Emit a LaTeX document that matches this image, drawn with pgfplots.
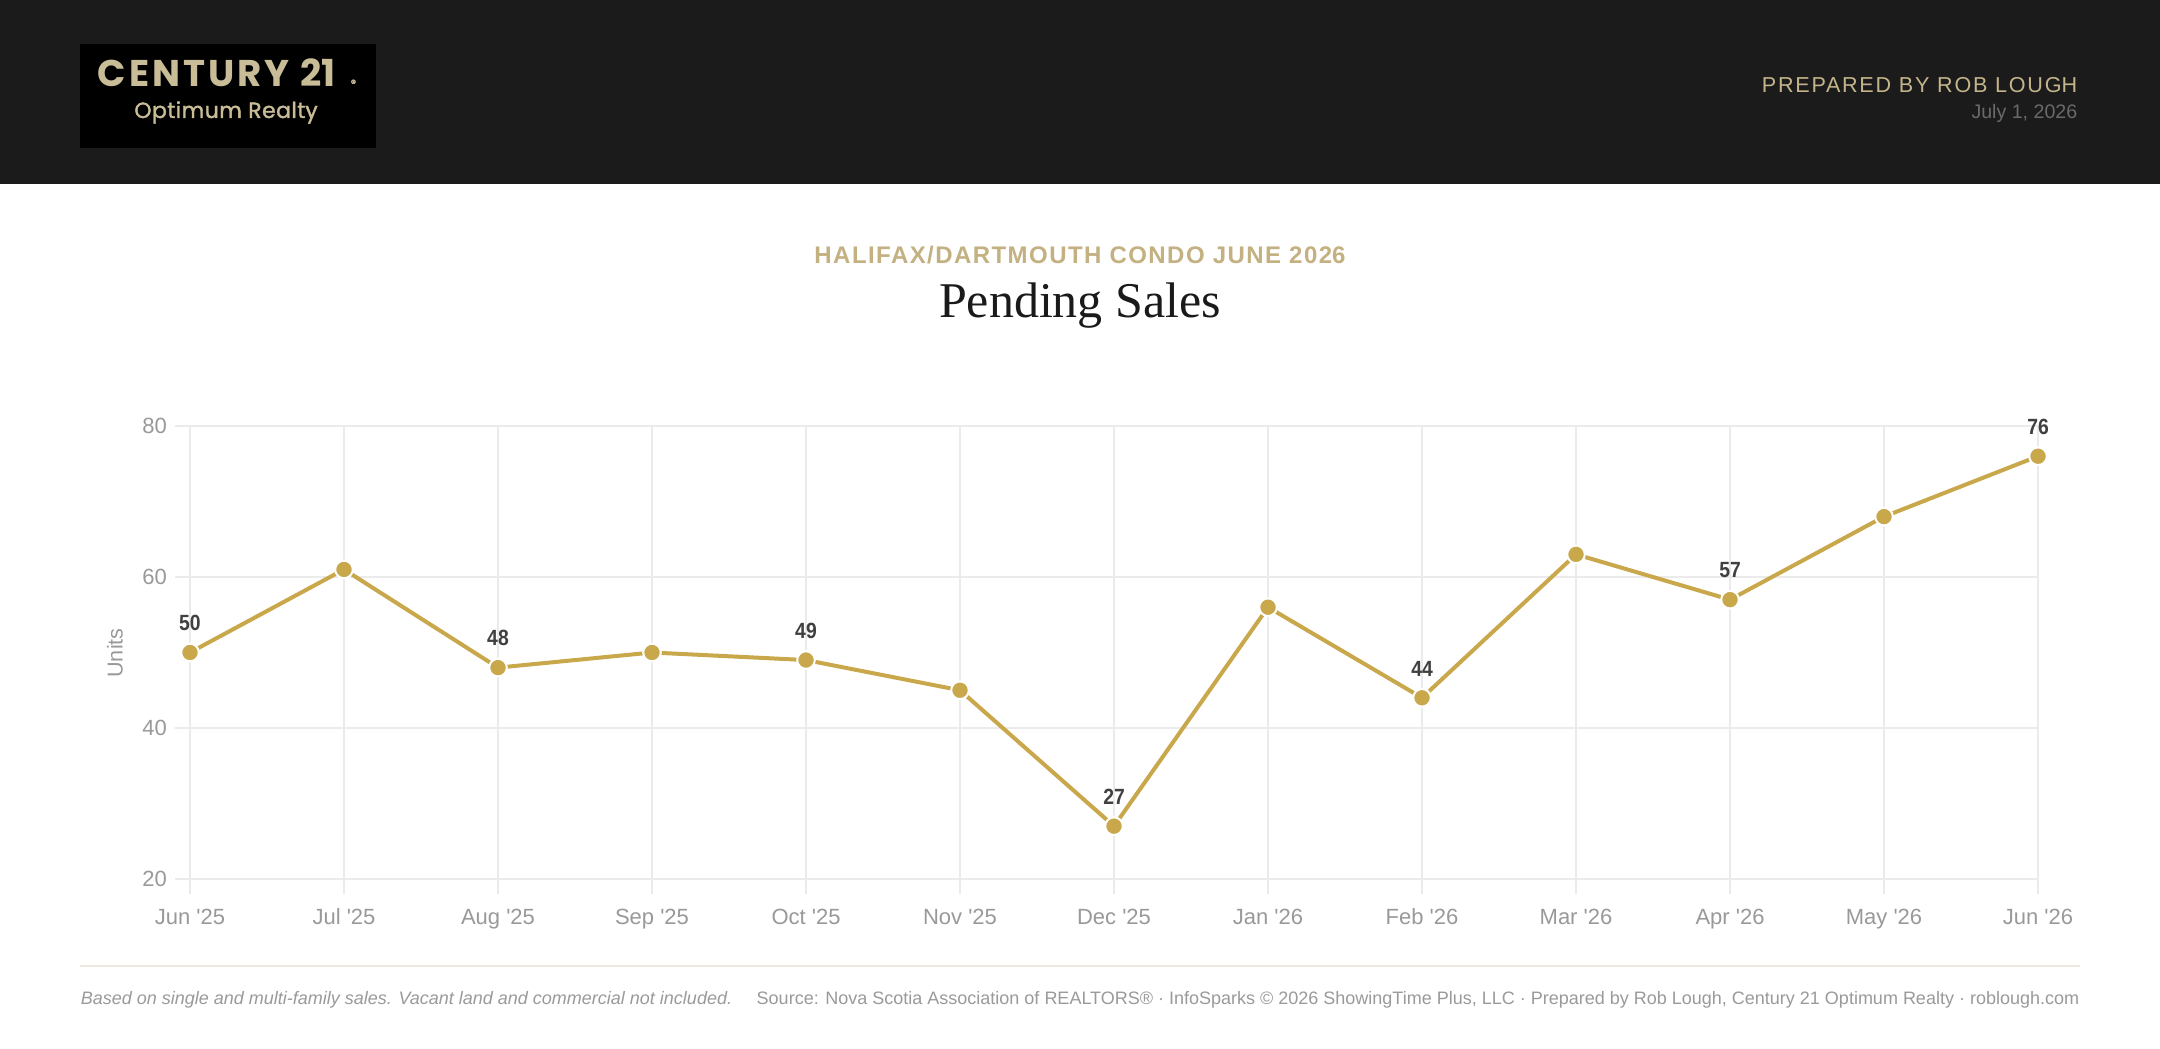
\documentclass[border=0pt]{standalone}
\usepackage{fontspec}
\setmainfont{Liberation Sans}
\newfontfamily\seriffont{Liberation Serif}
\newfontfamily\logofont{Poppins}
\newfontfamily\logofontb[FakeBold=1.5]{Poppins}
\usepackage{pgfplots}
\pgfplotsset{compat=1.18}

\definecolor{hdr}{HTML}{1B1B1B}
\definecolor{logotan}{HTML}{C9BD98}
\definecolor{prep}{HTML}{C4B48A}
\definecolor{datec}{HTML}{6A6A6A}
\definecolor{subc}{HTML}{C4B182}
\definecolor{titlec}{HTML}{1A1A1A}
\definecolor{gold}{HTML}{C9A84C}
\definecolor{gridc}{HTML}{EBEBEB}
\definecolor{tickc}{HTML}{999999}
\definecolor{labc}{HTML}{404040}
\definecolor{footline}{HTML}{ECE8DE}
\definecolor{footc}{HTML}{9A9A9A}

\begin{document}
\begin{tikzpicture}
\begin{scope}[x=0.25pt,y=0.25pt]
\path[use as bounding box] (0,0) rectangle (2160,1048);
\fill[white] (0,0) rectangle (2160,1048);
\fill[hdr] (0,864) rectangle (2160,1048);
\fill[black] (80,900) rectangle (376,1004);
\node[anchor=base west, inner sep=0, text=logotan, font=\logofont\bfseries\fontsize{9.3}{10}\selectfont] at (97,961) {\addfontfeatures{LetterSpace=8}CENTURY 2\addfontfeatures{LetterSpace=0}1};
\node[anchor=base west, inner sep=0, text=logotan, font=\logofontb\fontsize{2.6}{3}\selectfont] at (350,961) {®};
\node[anchor=base, inner sep=0, text=logotan, font=\logofontb\fontsize{5.5}{6}\selectfont] at (226,930) {\addfontfeatures{LetterSpace=2}Optimum Realt\addfontfeatures{LetterSpace=0}y};
\node[anchor=base east, inner sep=0, text=prep, font=\fontsize{5.4}{6}\selectfont] at (2078,955) {\addfontfeatures{LetterSpace=8}PREPARED BY ROB LOUG\addfontfeatures{LetterSpace=0}H};
\node[anchor=base east, inner sep=0, text=datec, font=\fontsize{4.9}{6}\selectfont] at (2078,929) {July 1, 2026};
\node[anchor=base, inner sep=0, text=subc, font=\bfseries\fontsize{6}{7}\selectfont] at (1080,784) {\addfontfeatures{LetterSpace=6}HALIFAX/DARTMOUTH CONDO JUNE 202\addfontfeatures{LetterSpace=0}6};
\node[anchor=base, inner sep=0, text=titlec, font=\seriffont\fontsize{12.5}{14}\selectfont] at (1080,730) {Pending Sales};
\node[rotate=90, inner sep=0, text=tickc, font=\fontsize{5.4}{6}\selectfont] at (115,395) {Units};
\draw[footline, line width=0.5pt] (80,82) -- (2080,82);
\node[anchor=base west, inner sep=0, text=footc, font=\itshape\fontsize{4.5}{5}\selectfont] at (80,43) {Based on single and multi-family sales. Vacant land and commercial not included.};
\node[anchor=base east, inner sep=0, text=footc, font=\fontsize{4.5}{5}\selectfont] at (2080,43) {Source: Nova Scotia Association of REALTORS® · InfoSparks © 2026 ShowingTime Plus, LLC · Prepared by Rob Lough, Century 21 Optimum Realty · roblough.com};
\end{scope}
\begin{axis}[
  at={(47.5pt,42.25pt)}, anchor=south west,
  scale only axis, width=462pt, height=113.25pt,
  xmin=0, xmax=12, ymin=20, ymax=80,
  xtick={0,...,12},
  xticklabels={Jun \textquotesingle25,Jul \textquotesingle25,Aug \textquotesingle25,Sep \textquotesingle25,Oct \textquotesingle25,Nov \textquotesingle25,Dec \textquotesingle25,Jan \textquotesingle26,Feb \textquotesingle26,Mar \textquotesingle26,Apr \textquotesingle26,May \textquotesingle26,Jun \textquotesingle26},
  ytick={20,40,60,80},
  grid=major, major grid style={draw=gridc, line width=0.375pt},
  axis line style={draw=none},
  tick style={draw=gridc, line width=0.375pt},
  major tick length=3.75pt, tick align=outside,
  tick pos=left,
  ticklabel style={font=\fontsize{5.5}{6}\selectfont, text=tickc},
  xticklabel style={text height=4.1pt, text depth=1.2pt},
  yticklabel style={xshift=1.5pt},
  /pgf/number format/assume math mode=true,
  clip=false,
]
\addplot[gold, line width=1pt, mark=*, mark size=2.2pt, mark options={fill=gold, draw=white, line width=0.5pt}] coordinates {(0,50)(1,61)(2,48)(3,50)(4,49)(5,45)(6,27)(7,56)(8,44)(9,63)(10,57)(11,68)(12,76)};
\addplot[draw=none, mark=none, nodes near coords, nodes near coords style={font=\bfseries\fontsize{5.5}{6}\selectfont, text=labc, anchor=south, inner sep=0pt, yshift=5.25pt, xscale=0.88}] coordinates {(0,50)(2,48)(4,49)(6,27)(8,44)(10,57)(12,76)};
\end{axis}
\end{tikzpicture}
\end{document}
